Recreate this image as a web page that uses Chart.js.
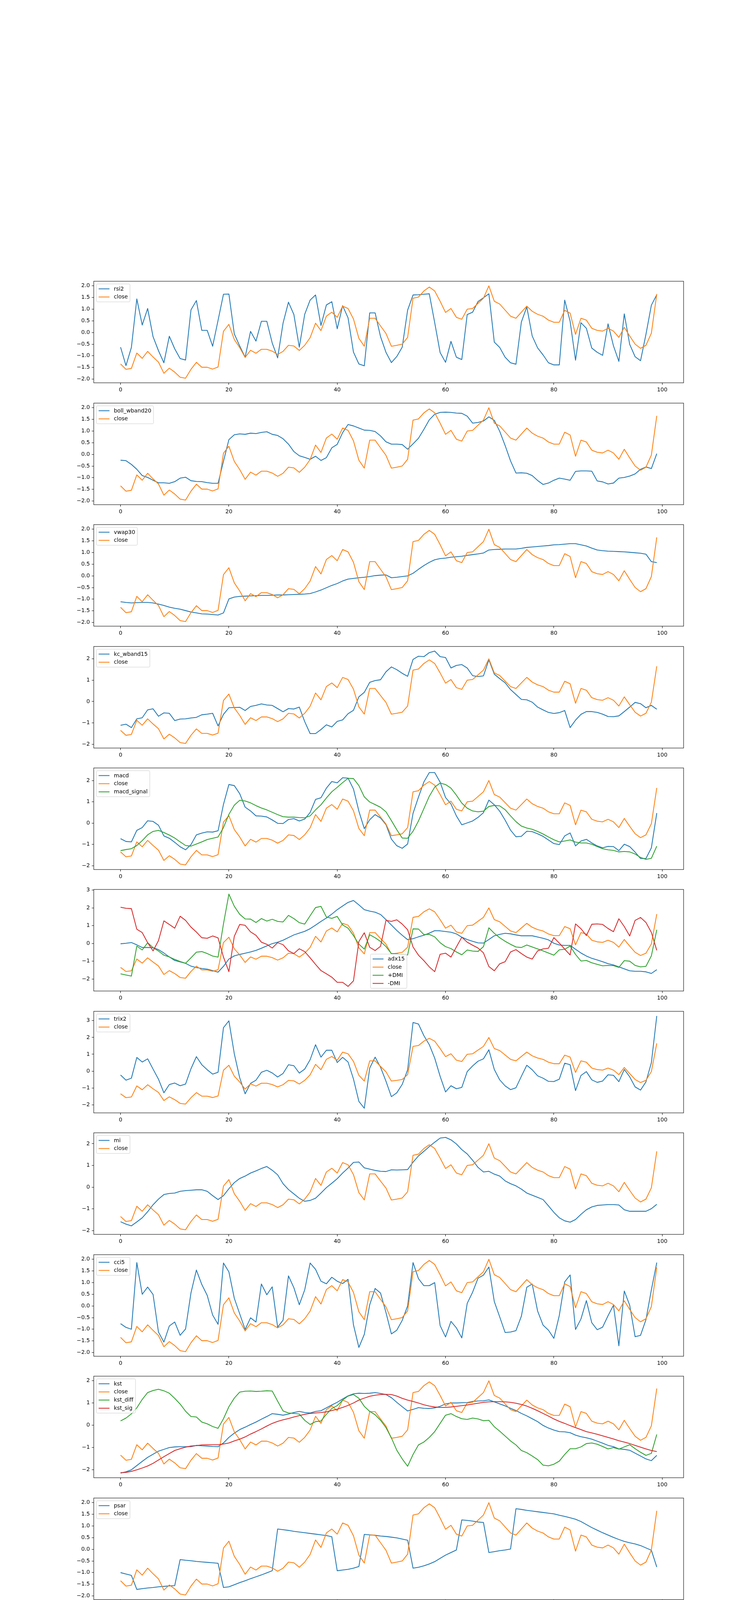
<!DOCTYPE html>
<html>
<head>
<meta charset="utf-8">
<script src="https://cdn.jsdelivr.net/npm/chart.js@4.4.1/dist/chart.umd.min.js"></script>
<style>
  html, body { margin: 0; padding: 0; background: #fff; }
  body { width: 1920px; height: 6000px; position: relative; overflow: hidden; }
  .panel { position: absolute; left: 0; width: 1920px; }
</style>
</head>
<body>
<script>
// --- Données ---
const STEPS = Array.from({ length: 100 }, (_, i) => i);
const X_TICKS = [0, 20, 40, 60, 80, 100];

const CLOSE = [
  -1.35, -1.58, -1.54, -0.88, -1.11, -0.81, -1.05, -1.27, -1.75, -1.53,
  -1.70, -1.92, -1.96, -1.58, -1.28, -1.49, -1.49, -1.57, -1.48, 0.05,
  0.35, -0.30, -0.65, -1.07, -0.76, -0.89, -0.72, -0.72, -0.80, -0.94,
  -0.81, -0.55, -0.58, -0.77, -0.55, -0.22, 0.40, 0.08, 0.70, 0.87,
  0.65, 1.13, 1.03, 0.58, -0.25, -0.59, 0.61, 0.61, 0.28, -0.04,
  -0.59, -0.55, -0.50, -0.21, 1.47, 1.52, 1.78, 1.95, 1.78, 1.34,
  0.86, 1.03, 0.65, 0.57, 1.00, 1.03, 1.25, 1.47, 2.00, 1.34,
  1.22, 0.96, 0.70, 0.61, 0.87, 1.13, 0.91, 0.78, 0.70, 0.53,
  0.44, 0.44, 0.95, 0.83, -0.08, 0.61, 0.53, 0.18, 0.09, 0.06,
  0.18, 0.06, -0.21, 0.22, -0.15, -0.50, -0.68, -0.55, -0.03, 1.65
];

const RSI2 = [
  -0.63, -1.42, -0.64, 1.44, 0.32, 1.03, -0.18, -0.78, -1.30, -0.16,
  -0.70, -1.12, -1.18, 0.97, 1.37, 0.09, 0.09, -0.59, 0.52, 1.64,
  1.65, -0.06, -0.58, -1.06, 0.05, -0.37, 0.48, 0.48, -0.45, -1.09,
  0.40, 1.30, 0.77, -0.63, 0.78, 1.39, 1.61, 0.30, 1.18, 1.32,
  0.16, 1.15, 0.63, -0.84, -1.35, -1.43, 0.84, 0.84, -0.18, -0.85,
  -1.29, -1.03, -0.63, 0.96, 1.61, 1.62, 1.64, 1.66, 0.42, -0.86,
  -1.28, -0.38, -1.06, -1.16, 0.77, 0.87, 1.33, 1.49, 1.66, -0.41,
  -0.64, -1.06, -1.30, -1.36, 0.45, 1.10, -0.15, -0.66, -0.96, -1.30,
  -1.39, -1.39, 1.39, 0.48, -1.19, 0.42, 0.18, -0.67, -0.85, -0.98,
  0.37, -0.57, -1.24, 0.80, -0.51, -1.04, -1.21, -0.08, 1.17, 1.62
];

const BOLL_WBAND20 = [
  -0.25, -0.27, -0.43, -0.64, -0.91, -0.99, -1.11, -1.22, -1.22, -1.24,
  -1.17, -1.02, -0.98, -1.13, -1.16, -1.17, -1.21, -1.24, -1.24, -0.30,
  0.63, 0.84, 0.88, 0.86, 0.91, 0.89, 0.94, 0.97, 0.86, 0.81,
  0.67, 0.44, 0.12, -0.06, -0.13, -0.21, -0.08, -0.26, -0.14, 0.28,
  0.43, 0.93, 1.28, 1.22, 1.13, 1.04, 1.03, 0.98, 0.79, 0.54,
  0.44, 0.44, 0.42, 0.22, 0.45, 0.69, 1.07, 1.48, 1.72, 1.80,
  1.81, 1.80, 1.77, 1.76, 1.64, 1.34, 1.37, 1.43, 1.61, 1.46,
  0.99, 0.38, -0.28, -0.80, -0.79, -0.81, -0.91, -1.12, -1.29, -1.23,
  -1.11, -1.02, -1.06, -1.11, -0.73, -0.71, -0.71, -0.72, -1.14, -1.18,
  -1.27, -1.23, -1.02, -0.99, -0.93, -0.84, -0.64, -0.54, -0.61, 0.03
];

const VWAP30 = [
  -1.11, -1.14, -1.16, -1.15, -1.14, -1.14, -1.16, -1.21, -1.27, -1.34,
  -1.39, -1.43, -1.49, -1.55, -1.59, -1.63, -1.64, -1.66, -1.68, -1.59,
  -0.99, -0.91, -0.88, -0.87, -0.86, -0.85, -0.84, -0.84, -0.83, -0.82,
  -0.82, -0.81, -0.80, -0.79, -0.78, -0.76, -0.69, -0.61, -0.51, -0.41,
  -0.33, -0.22, -0.14, -0.11, -0.08, -0.06, -0.03, 0.01, 0.03, 0.04,
  -0.08, -0.06, -0.03, 0.00, 0.11, 0.28, 0.44, 0.58, 0.69, 0.74,
  0.76, 0.80, 0.82, 0.84, 0.88, 0.91, 0.94, 0.98, 1.11, 1.13,
  1.14, 1.15, 1.15, 1.15, 1.18, 1.22, 1.24, 1.26, 1.28, 1.30,
  1.33, 1.34, 1.36, 1.38, 1.38, 1.33, 1.28, 1.19, 1.11, 1.08,
  1.06, 1.05, 1.04, 1.03, 1.01, 0.99, 0.97, 0.93, 0.61, 0.57
];

const KC_WBAND15 = [
  -1.11, -1.06, -1.22, -0.81, -0.76, -0.39, -0.34, -0.69, -0.53, -0.55,
  -0.89, -0.82, -0.81, -0.77, -0.74, -0.62, -0.59, -0.55, -1.14, -0.60,
  -0.29, -0.28, -0.27, -0.42, -0.23, -0.18, -0.11, -0.16, -0.18, -0.33,
  -0.48, -0.33, -0.35, -0.26, -0.94, -1.50, -1.50, -1.31, -1.09, -1.19,
  -0.93, -0.86, -0.57, -0.41, 0.22, 0.43, 0.90, 0.98, 1.02, 1.39,
  1.62, 1.49, 1.32, 1.18, 1.97, 2.12, 2.10, 2.29, 2.36, 2.10,
  2.06, 1.57, 1.69, 1.73, 1.57, 1.21, 1.17, 1.20, 1.95, 1.28,
  1.07, 0.88, 0.56, 0.33, 0.10, 0.08, -0.03, -0.26, -0.39, -0.51,
  -0.56, -0.52, -0.42, -1.22, -0.87, -0.60, -0.47, -0.47, -0.51, -0.59,
  -0.70, -0.71, -0.67, -0.47, -0.26, -0.04, -0.10, -0.29, -0.18, -0.36
];

const MACD = [
  -0.73, -0.86, -0.88, -0.34, -0.21, 0.11, 0.08, -0.10, -0.60, -0.71,
  -0.90, -1.11, -1.25, -1.01, -0.55, -0.47, -0.41, -0.42, -0.36, 0.88,
  1.81, 1.76, 1.38, 0.75, 0.57, 0.34, 0.33, 0.29, 0.15, -0.01,
  -0.02, 0.17, 0.21, 0.10, 0.19, 0.50, 1.11, 1.19, 1.64, 1.95,
  1.89, 2.13, 2.11, 1.60, 0.56, -0.26, 0.16, 0.40, 0.24, -0.07,
  -0.75, -1.06, -1.18, -0.98, 0.46, 1.22, 1.93, 2.37, 2.37, 1.92,
  1.20, 0.90, 0.34, -0.08, 0.01, 0.10, 0.27, 0.49, 1.08, 0.86,
  0.56, 0.14, -0.33, -0.64, -0.62, -0.38, -0.40, -0.50, -0.62, -0.79,
  -0.96, -1.01, -0.60, -0.46, -1.07, -0.84, -0.76, -0.93, -1.07, -1.16,
  -1.09, -1.10, -1.29, -0.99, -1.10, -1.36, -1.66, -1.66, -1.16, 0.47
];

const MACD_SIGNAL = [
  -1.29, -1.24, -1.20, -1.05, -0.82, -0.55, -0.39, -0.34, -0.44, -0.56,
  -0.70, -0.88, -1.05, -1.08, -0.98, -0.88, -0.77, -0.71, -0.65, -0.21,
  0.41, 0.84, 1.07, 1.04, 0.95, 0.82, 0.71, 0.62, 0.51, 0.40,
  0.30, 0.28, 0.28, 0.26, 0.25, 0.34, 0.62, 0.86, 1.18, 1.47,
  1.68, 1.90, 2.10, 2.09, 1.76, 1.23, 0.99, 0.87, 0.74, 0.53,
  0.12, -0.31, -0.70, -0.71, -0.38, 0.10, 0.68, 1.26, 1.69, 1.88,
  1.81, 1.64, 1.31, 0.94, 0.70, 0.57, 0.53, 0.56, 0.78, 0.83,
  0.81, 0.63, 0.34, 0.07, -0.14, -0.23, -0.29, -0.39, -0.51, -0.65,
  -0.78, -0.88, -0.84, -0.79, -0.89, -0.93, -0.93, -0.99, -1.10, -1.20,
  -1.25, -1.28, -1.35, -1.33, -1.35, -1.45, -1.61, -1.70, -1.65, -1.08
];

const ADX15 = [
  -0.02, 0.01, 0.05, -0.08, -0.23, -0.23, -0.24, -0.35, -0.54, -0.76,
  -0.96, -1.04, -1.12, -1.28, -1.36, -1.41, -1.45, -1.53, -1.62, -1.29,
  -0.88, -0.70, -0.62, -0.55, -0.48, -0.39, -0.27, -0.14, -0.01, 0.07,
  0.18, 0.33, 0.48, 0.58, 0.68, 0.83, 1.03, 1.24, 1.43, 1.65,
  1.90, 2.11, 2.31, 2.42, 2.17, 1.90, 1.82, 1.76, 1.63, 1.34,
  1.04, 0.73, 0.46, 0.21, 0.27, 0.37, 0.46, 0.58, 0.72, 0.71,
  0.67, 0.63, 0.54, 0.35, 0.22, 0.12, 0.03, 0.02, 0.22, 0.43,
  0.51, 0.57, 0.54, 0.48, 0.43, 0.43, 0.43, 0.36, 0.29, 0.20,
  0.01, -0.09, -0.11, -0.11, -0.33, -0.54, -0.71, -0.84, -0.93, -1.03,
  -1.14, -1.21, -1.32, -1.43, -1.54, -1.57, -1.57, -1.60, -1.69, -1.48
];

const PLUS_DMI = [
  -1.71, -1.78, -1.84, -0.15, -0.37, 0.04, -0.24, -0.43, -0.66, -0.76,
  -0.90, -1.02, -1.12, -0.81, -0.49, -0.46, -0.57, -0.71, -0.77, 1.10,
  2.78, 2.09, 1.64, 1.38, 1.37, 1.18, 1.40, 1.26, 1.36, 1.24,
  1.21, 1.58, 1.40, 1.17, 1.09, 1.56, 2.02, 2.09, 1.49, 1.41,
  1.52, 1.04, 0.86, 0.44, -0.04, -0.32, 0.49, 0.32, 0.11, -0.18,
  -0.57, -0.59, -0.64, -0.65, 0.82, 0.81, 0.50, 0.51, 0.37, 0.04,
  -0.18, -0.29, -0.48, -0.64, -0.37, -0.43, -0.45, -0.18, 0.88, 0.57,
  0.32, 0.12, -0.05, -0.20, -0.23, -0.09, -0.20, -0.31, -0.42, -0.54,
  -0.66, -0.36, -0.33, -0.15, -0.62, -0.99, -0.96, -1.09, -1.18, -1.26,
  -1.24, -1.25, -1.35, -0.97, -1.00, -1.24, -1.32, -1.29, -0.70, 0.77
];

const MINUS_DMI = [
  2.04, 1.98, 1.96, 0.80, 0.61, 0.04, -0.42, 0.16, 1.27, 1.07,
  0.86, 1.53, 1.30, 0.92, 0.64, 0.32, 0.29, 0.42, 0.31, -0.77,
  -1.59, 0.40, 1.07, 1.02, 0.65, 0.46, 0.07, -0.05, -0.26, 0.04,
  -0.07, -0.42, -0.57, -0.30, -0.46, -0.81, -1.18, -1.53, -1.71, -1.90,
  -2.19, -2.19, -2.42, -2.11, 0.11, 0.60, -0.22, -0.40, -0.16, 1.30,
  1.24, 1.33, 1.09, 0.77, -0.20, -0.66, -0.97, -1.32, -1.59, -0.61,
  -0.55, -0.77, -0.20, 0.35, 0.07, -0.10, -0.26, -0.53, -1.30, -1.54,
  -1.15, -1.03, -0.48, -0.35, -0.57, -0.77, -0.88, -0.42, -0.31, -0.27,
  0.33, 0.02, -0.32, -0.65, 1.10, 0.83, 0.44, 1.08, 1.10, 1.07,
  0.84, 0.66, 1.39, 0.95, 0.42, 1.30, 1.46, 1.18, 0.62, -0.39
];

const TRIX2 = [
  -0.23, -0.54, -0.42, 0.81, 0.54, 0.73, 0.12, -0.48, -1.29, -0.80,
  -0.71, -0.87, -0.77, 0.14, 0.86, 0.38, 0.08, -0.18, -0.07, 2.58,
  2.99, 1.03, -0.40, -1.35, -0.73, -0.54, -0.07, 0.05, -0.11, -0.35,
  -0.14, 0.38, 0.32, -0.12, 0.12, 0.68, 1.57, 0.83, 1.24, 1.24,
  0.51, 0.82, 0.54, -0.47, -1.80, -2.21, 0.18, 0.83, 0.23, -0.60,
  -1.52, -1.29, -0.79, 0.08, 2.89, 2.80, 2.11, 1.57, 0.77, -0.31,
  -1.24, -0.87, -1.05, -0.97, -0.03, 0.31, 0.59, 0.73, 1.27, 0.10,
  -0.52, -0.88, -1.10, -0.99, -0.31, 0.35, 0.08, -0.28, -0.42, -0.61,
  -0.62, -0.48, 0.47, 0.38, -1.16, -0.26, -0.03, -0.52, -0.67, -0.59,
  -0.22, -0.25, -0.63, 0.10, -0.34, -0.94, -1.13, -0.64, 0.50, 3.28
];

const MI = [
  -1.59, -1.70, -1.78, -1.60, -1.41, -1.13, -0.81, -0.55, -0.34, -0.29,
  -0.27, -0.19, -0.16, -0.14, -0.12, -0.12, -0.19, -0.39, -0.57, -0.39,
  -0.07, 0.21, 0.40, 0.51, 0.65, 0.75, 0.86, 0.95, 0.78, 0.57,
  0.16, -0.11, -0.31, -0.51, -0.65, -0.61, -0.51, -0.27, -0.02, 0.18,
  0.39, 0.65, 0.88, 1.14, 1.16, 0.89, 0.83, 0.77, 0.73, 0.72,
  0.80, 0.79, 0.80, 0.81, 1.15, 1.44, 1.65, 1.87, 2.07, 2.26,
  2.29, 2.18, 1.99, 1.73, 1.53, 1.24, 0.91, 0.70, 0.73, 0.60,
  0.51, 0.29, 0.16, 0.06, -0.09, -0.27, -0.37, -0.47, -0.57, -0.86,
  -1.16, -1.41, -1.55, -1.61, -1.49, -1.25, -1.04, -0.91, -0.84, -0.82,
  -0.80, -0.80, -0.82, -1.04, -1.11, -1.11, -1.11, -1.11, -0.99, -0.79
];

const CCI5 = [
  -0.76, -0.92, -1.00, 1.86, 0.50, 0.81, 0.49, -1.12, -1.55, -0.86,
  -0.69, -1.26, -0.99, 0.56, 1.54, 0.92, 0.45, -0.39, -0.79, 1.84,
  1.46, 0.33, -0.34, -1.01, -0.51, -0.69, 0.94, 0.48, 0.82, -0.91,
  -0.61, 1.29, 0.78, 0.05, 0.69, 1.84, 1.57, 1.06, 0.95, 1.23,
  1.06, 0.96, 1.14, -0.81, -1.78, -1.22, 0.05, 0.75, 0.55, -0.28,
  -1.20, -1.04, -0.62, 0.00, 1.86, 1.17, 0.87, 0.87, 1.00, -0.84,
  -1.33, -0.66, -0.94, -1.37, 0.11, 0.59, 1.19, 1.32, 1.67, 0.19,
  -0.47, -1.14, -1.12, -1.06, -0.44, 0.80, 0.94, -0.22, -0.82, -1.04,
  -1.39, -0.41, 1.03, 1.33, -1.01, -0.56, 0.23, -0.72, -1.02, -0.91,
  -0.42, 0.03, -1.71, 0.64, 0.03, -1.32, -1.26, -0.59, 0.69, 1.86
];

const KST = [
  -2.16, -2.10, -2.01, -1.82, -1.63, -1.45, -1.31, -1.17, -1.09, -1.01,
  -0.98, -0.97, -0.97, -0.97, -0.91, -0.93, -0.94, -0.96, -0.97, -0.80,
  -0.55, -0.36, -0.20, -0.09, 0.03, 0.14, 0.27, 0.39, 0.52, 0.49,
  0.45, 0.50, 0.57, 0.62, 0.57, 0.55, 0.62, 0.65, 0.78, 0.91,
  1.03, 1.18, 1.32, 1.41, 1.44, 1.43, 1.44, 1.47, 1.43, 1.38,
  1.24, 1.03, 0.83, 0.64, 0.71, 0.79, 0.76, 0.75, 0.78, 0.85,
  0.96, 1.00, 1.00, 1.01, 1.02, 1.07, 1.09, 1.10, 1.14, 1.05,
  0.96, 0.87, 0.76, 0.66, 0.53, 0.42, 0.29, 0.16, -0.01, -0.13,
  -0.22, -0.29, -0.30, -0.34, -0.45, -0.52, -0.57, -0.63, -0.72, -0.81,
  -0.91, -0.97, -1.07, -1.09, -1.13, -1.26, -1.39, -1.52, -1.60, -1.36
];

const KST_DIFF = [
  0.19, 0.32, 0.51, 0.78, 1.16, 1.47, 1.56, 1.62, 1.55, 1.44,
  1.21, 0.95, 0.63, 0.39, 0.37, 0.14, 0.06, -0.06, -0.14, 0.29,
  0.83, 1.22, 1.49, 1.53, 1.54, 1.52, 1.53, 1.55, 1.54, 1.08,
  0.64, 0.55, 0.53, 0.50, 0.22, 0.03, 0.16, 0.19, 0.49, 0.75,
  0.88, 1.13, 1.31, 1.38, 1.21, 0.85, 0.62, 0.47, 0.22, -0.11,
  -0.57, -1.13, -1.52, -1.85, -1.32, -0.89, -0.76, -0.55, -0.29, 0.08,
  0.45, 0.52, 0.39, 0.29, 0.26, 0.32, 0.28, 0.20, 0.22, -0.07,
  -0.27, -0.49, -0.71, -0.89, -1.14, -1.24, -1.39, -1.55, -1.80, -1.83,
  -1.76, -1.62, -1.32, -1.06, -1.06, -0.98, -0.83, -0.80, -0.86, -0.96,
  -1.07, -1.01, -1.08, -0.98, -0.88, -1.06, -1.22, -1.36, -1.27, -0.42
];

const KST_SIG = [
  -2.14, -2.13, -2.08, -2.01, -1.93, -1.84, -1.72, -1.57, -1.42, -1.28,
  -1.14, -1.06, -0.99, -0.94, -0.92, -0.89, -0.88, -0.88, -0.88, -0.85,
  -0.80, -0.71, -0.63, -0.53, -0.40, -0.29, -0.17, -0.04, 0.08, 0.17,
  0.24, 0.30, 0.37, 0.43, 0.49, 0.53, 0.55, 0.57, 0.60, 0.66,
  0.72, 0.80, 0.89, 1.00, 1.13, 1.22, 1.30, 1.35, 1.38, 1.39,
  1.38, 1.31, 1.21, 1.13, 1.07, 1.00, 0.92, 0.86, 0.82, 0.80,
  0.80, 0.82, 0.85, 0.88, 0.91, 0.95, 0.99, 1.03, 1.05, 1.06,
  1.06, 1.05, 1.03, 0.99, 0.93, 0.86, 0.76, 0.65, 0.53, 0.41,
  0.28, 0.17, 0.08, -0.02, -0.11, -0.20, -0.29, -0.35, -0.41, -0.48,
  -0.55, -0.62, -0.70, -0.76, -0.83, -0.91, -0.99, -1.07, -1.14, -1.19
];

const PSAR = [
  -1.00, -1.06, -1.12, -1.72, -1.69, -1.66, -1.64, -1.61, -1.59, -1.57,
  -1.56, -0.44, -0.47, -0.49, -0.52, -0.54, -0.56, -0.58, -0.60, -1.64,
  -1.61, -1.52, -1.43, -1.35, -1.26, -1.18, -1.10, -1.01, -0.92, 0.87,
  0.84, 0.81, 0.77, 0.74, 0.71, 0.68, 0.65, 0.62, 0.59, 0.54,
  -0.92, -0.89, -0.86, -0.81, -0.74, 0.64, 0.62, 0.60, 0.57, 0.55,
  0.52, 0.49, 0.44, 0.39, -0.81, -0.77, -0.71, -0.63, -0.53, -0.39,
  -0.25, -0.14, -0.03, 1.26, 1.24, 1.21, 1.17, 1.15, -0.14, -0.10,
  -0.06, -0.03, 0.01, 1.74, 1.71, 1.67, 1.64, 1.61, 1.58, 1.55,
  1.52, 1.46, 1.41, 1.35, 1.29, 1.19, 1.06, 0.93, 0.82, 0.71,
  0.61, 0.51, 0.42, 0.34, 0.28, 0.23, 0.16, 0.06, -0.04, -0.76
];

const TSI = [
  -1.97, -1.99, -2.00, -1.69, -1.54, -1.25, -1.13, -1.11, -1.23, -1.24,
  -1.30, -1.43, -1.54, -1.46, -1.25, -1.16, -1.09, -1.08, -1.02, -0.34,
  0.28, 0.47, 0.50, 0.38, 0.37, 0.32, 0.33, 0.34, 0.31, 0.26,
  0.26, 0.33, 0.38, 0.35, 0.40, 0.55, 0.86, 0.99, 1.26, 1.51,
  1.62, 1.83, 1.95, 1.86, 1.45, 1.05, 1.05, 1.04, 0.94, 0.76,
  0.45, 0.23, 0.07, 0.02, 0.39, 0.67, 0.95, 1.21, 1.36, 1.35,
  1.20, 1.13, 0.96, 0.80, 0.77, 0.75, 0.78, 0.85, 1.05, 0.99,
  0.93, 0.78, 0.58, 0.41, 0.33, 0.33, 0.28, 0.18, 0.07, -0.05,
  -0.20, -0.31, -0.23, -0.22, -0.49, -0.48, -0.49, -0.61, -0.73, -0.82,
  -0.87, -0.94, -1.06, -1.01, -1.08, -1.24, -1.41, -1.50, -1.38, -0.67
];

const WR15 = [
  0.45, 0.03, 0.22, 0.99, 0.58, 1.15, 0.66, 0.03, -1.31, -0.81,
  -1.20, -1.16, -1.25, -0.47, 0.13, -0.30, -0.30, -0.47, -0.21, 2.21,
  0.83, 0.22, -0.12, -0.53, -0.23, -0.35, -0.22, -0.30, -0.57, -0.72,
  -0.59, -0.30, -0.38, -0.99, -0.83, 1.34, 2.09, 0.76, 1.94, 2.04,
  1.10, 1.86, 1.60, 0.89, -0.39, -1.03, 0.90, 0.90, 0.33, -0.30,
  -1.28, -1.08, -1.02, -0.51, 2.21, 1.72, 2.02, 1.87, 1.49, 1.04,
  0.44, 0.64, 0.20, 0.09, 0.59, 0.64, 0.85, 1.12, 0.97, -0.07,
  -0.23, -0.56, -0.90, -1.01, -0.69, -0.35, -0.61, -0.79, -1.15, -1.39,
  -1.23, -1.23, -0.57, -0.11, -1.43, 0.59, 0.45, -0.37, -0.58, -0.69,
  -0.37, -0.68, -1.31, -0.28, -1.20, -1.35, -1.43, -1.18, 0.00, 2.21
];

const KAMA = [
  -1.63, -1.63, -1.63, -1.53, -1.51, -1.49, -1.48, -1.48, -1.49, -1.50,
  -1.51, -1.53, -1.54, -1.54, -1.54, -1.55, -1.55, -1.56, -1.56, -1.32,
  -0.92, -0.85, -0.83, -0.83, -0.83, -0.83, -0.83, -0.83, -0.83, -0.83,
  -0.83, -0.83, -0.83, -0.83, -0.81, -0.75, -0.52, -0.46, -0.25, 0.03,
  0.14, 0.33, 0.48, 0.50, 0.50, 0.48, 0.48, 0.48, 0.48, 0.47,
  0.41, 0.33, 0.26, 0.25, 0.38, 0.58, 0.69, 0.81, 0.94, 1.00,
  1.01, 1.04, 1.04, 1.03, 1.04, 1.06, 1.08, 1.10, 1.11, 1.11,
  1.11, 1.11, 1.11, 1.11, 1.11, 1.11, 1.11, 1.11, 1.08, 1.03,
  1.00, 0.98, 0.98, 0.99, 0.91, 0.91, 0.90, 0.88, 0.86, 0.85,
  0.84, 0.83, 0.73, 0.72, 0.71, 0.56, 0.38, 0.31, 0.31, 0.47
];

const ROC15 = [
  -1.04, -1.20, -1.01, -0.24, -0.24, 0.52, 0.07, 0.49, 0.02, -0.13,
  -0.83, -1.18, -1.18, -0.48, -0.13, -0.39, -0.13, -0.28, -0.93, 1.09,
  1.07, 0.65, 0.52, 0.59, 0.68, 0.74, 1.23, 1.27, 0.74, 0.16,
  0.56, 0.88, 0.93, 0.62, -0.89, -0.83, 0.52, 0.58, 1.78, 1.59,
  1.52, 1.84, 1.73, 1.31, 0.53, -0.02, 1.05, 1.10, 0.97, 0.33,
  -0.68, -1.23, -0.89, -1.18, 0.39, 0.65, 0.37, 0.65, 1.01, 1.49,
  1.39, 0.20, -0.19, 0.03, 0.82, 1.59, 1.74, 1.93, 2.15, -0.36,
  -0.54, -0.97, -1.44, -1.37, -0.68, 0.02, -0.38, -0.10, -0.10, -0.72,
  -0.86, -1.06, -0.75, -1.35, -1.65, -0.85, -0.68, -0.77, -0.77, -1.09,
  -1.19, -1.12, -1.26, -0.73, -0.97, -1.24, -1.41, -1.77, -1.12, 1.65
];

// --- Sous-graphiques (ordre matplotlib) ---
const PANELS = [
  { names: ['rsi2', 'close'], series: [RSI2, CLOSE], step: 0.5 },
  { names: ['boll_wband20', 'close'], series: [BOLL_WBAND20, CLOSE], step: 0.5 },
  { names: ['vwap30', 'close'], series: [VWAP30, CLOSE], step: 0.5 },
  { names: ['kc_wband15', 'close'], series: [KC_WBAND15, CLOSE], step: 1 },
  { names: ['macd', 'close', 'macd_signal'], series: [MACD, CLOSE, MACD_SIGNAL], step: 1 },
  { names: ['adx15', 'close', '+DMI', '-DMI'], series: [ADX15, CLOSE, PLUS_DMI, MINUS_DMI], step: 1, loc: 'lower center' },
  { names: ['trix2', 'close'], series: [TRIX2, CLOSE], step: 1 },
  { names: ['mi', 'close'], series: [MI, CLOSE], step: 1 },
  { names: ['cci5', 'close'], series: [CCI5, CLOSE], step: 0.5 },
  { names: ['kst', 'close', 'kst_diff', 'kst_sig'], series: [KST, CLOSE, KST_DIFF, KST_SIG], step: 1 },
  { names: ['psar', 'close'], series: [PSAR, CLOSE], step: 0.5 },
  { names: ['tsi', 'close'], series: [TSI, CLOSE], step: 0.5 },
  { names: ['wr15', 'close'], series: [WR15, CLOSE], step: 1 },
  { names: ['kama', 'close'], series: [KAMA, CLOSE], step: 0.5 },
  { names: ['roc15', 'close'], series: [ROC15, CLOSE], step: 1 }
];

const COLORS = ['#1f77b4', '#ff7f0e', '#2ca02c', '#d62728'];

// --- Mise en page (px) ---
const AX_TOP = 720.3;
const AX_STEP = 311.43;
const AX_H = 260;
const AX_LEFT = 240;
const AX_RIGHT = 1750;
const PAD_T = 20;
const PAD_B = 40;
const FS = 13.9;

Chart.defaults.font.family = "'DejaVu Sans', sans-serif";
Chart.defaults.font.size = FS;
Chart.defaults.color = '#000';

const fmtTick = (v, step) => {
  const s = step < 1 ? Math.abs(v).toFixed(1) : String(Math.round(Math.abs(v)));
  return (v < -1e-9 ? '\u2212' : '') + s;
};

// cadre + légende façon matplotlib
const frameLegend = {
  id: 'frameLegend',
  afterDraw(chart, args, opts) {
    const ctx = chart.ctx;
    const a = chart.chartArea;
    ctx.save();
    ctx.strokeStyle = '#000';
    ctx.lineWidth = 1.1;
    ctx.strokeRect(a.left, a.top, a.right - a.left, a.bottom - a.top);

    const pad = 0.4 * FS, gap = 0.5 * FS, hl = 2 * FS, htp = 0.8 * FS, bap = 0.5 * FS;
    ctx.font = `${FS}px 'DejaVu Sans', sans-serif`;
    const items = chart.data.datasets.map(d => ({ text: d.label, color: d.borderColor }));
    const tw = Math.max(...items.map(it => ctx.measureText(it.text).width));
    const rowH = FS;
    const w = pad * 2 + hl + htp + tw;
    const h = pad * 2 + items.length * rowH + (items.length - 1) * gap;
    let x = a.left + bap, y = a.top + bap;
    if (opts.loc === 'lower center') {
      x = (a.left + a.right) / 2 - w / 2;
      y = a.bottom - bap - h;
    }
    ctx.beginPath();
    ctx.roundRect(x, y, w, h, 0.2 * FS);
    ctx.fillStyle = 'rgba(255,255,255,0.8)';
    ctx.fill();
    ctx.strokeStyle = '#cccccc';
    ctx.lineWidth = 1;
    ctx.stroke();

    items.forEach((it, i) => {
      const cy = y + pad + i * (rowH + gap) + rowH / 2;
      ctx.beginPath();
      ctx.moveTo(x + pad, cy);
      ctx.lineTo(x + pad + hl, cy);
      ctx.strokeStyle = it.color;
      ctx.lineWidth = 2.08;
      ctx.stroke();
      ctx.fillStyle = '#000';
      ctx.textBaseline = 'middle';
      ctx.textAlign = 'left';
      ctx.fillText(it.text, x + pad + hl + htp, cy + 0.5);
    });
    ctx.restore();
  }
};

function makePanel(p, idx) {
  const axTop = Math.round(AX_TOP + idx * AX_STEP);
  const wrap = document.createElement('div');
  wrap.className = 'panel';
  wrap.style.top = (axTop - PAD_T) + 'px';
  wrap.style.height = (PAD_T + AX_H + PAD_B) + 'px';
  const canvas = document.createElement('canvas');
  canvas.width = 1920;
  canvas.height = PAD_T + AX_H + PAD_B;
  wrap.appendChild(canvas);
  document.body.appendChild(wrap);

  // autoscale matplotlib : étendue des données + 5 %
  const all = p.series.flat();
  const lo = Math.min(...all), hi = Math.max(...all);
  const m = (hi - lo) * 0.05;
  const yMin = lo - m, yMax = hi + m;
  const yTicks = [];
  for (let k = Math.ceil(yMin / p.step - 1e-9); k * p.step <= yMax + 1e-9; k++) {
    yTicks.push(+(k * p.step).toFixed(2));
  }

  const n = p.series.length;
  new Chart(canvas, {
    type: 'line',
    data: {
      labels: STEPS,
      datasets: p.series.map((s, k) => ({
        label: p.names[k],
        data: s,
        borderColor: COLORS[k],
        backgroundColor: COLORS[k],
        borderWidth: 2.08,
        borderJoinStyle: 'round',
        pointRadius: 0,
        tension: 0,
        fill: false,
        order: n - 1 - k
      }))
    },
    options: {
      responsive: false,
      devicePixelRatio: 1,
      animation: false,
      events: [],
      layout: { padding: { left: 0, top: PAD_T, right: 1920 - AX_RIGHT, bottom: 0 } },
      plugins: {
        legend: { display: false },
        tooltip: { enabled: false },
        frameLegend: { loc: p.loc || 'upper left' }
      },
      scales: {
        x: {
          type: 'linear',
          min: -4.95,
          max: 103.95,
          bounds: 'data',
          afterBuildTicks: (s) => { s.ticks = X_TICKS.map(v => ({ value: v })); },
          afterFit: (s) => { s.height = PAD_B; },
          grid: { drawOnChartArea: false, drawTicks: true, tickLength: 5, tickColor: '#000', tickWidth: 1.1 },
          border: { display: false },
          ticks: { autoSkip: false, maxRotation: 0, padding: 5, color: '#000', callback: (v) => String(v) }
        },
        y: {
          type: 'linear',
          min: yMin,
          max: yMax,
          bounds: 'data',
          afterBuildTicks: (s) => { s.ticks = yTicks.map(v => ({ value: v })); },
          afterFit: (s) => { s.width = AX_LEFT; },
          grid: { drawOnChartArea: false, drawTicks: true, tickLength: 5, tickColor: '#000', tickWidth: 1.1 },
          border: { display: false },
          ticks: { autoSkip: false, padding: 5, color: '#000', callback: (v) => fmtTick(v, p.step) }
        }
      }
    },
    plugins: [frameLegend]
  });
}

PANELS.forEach(makePanel);
</script>
</body>
</html>
